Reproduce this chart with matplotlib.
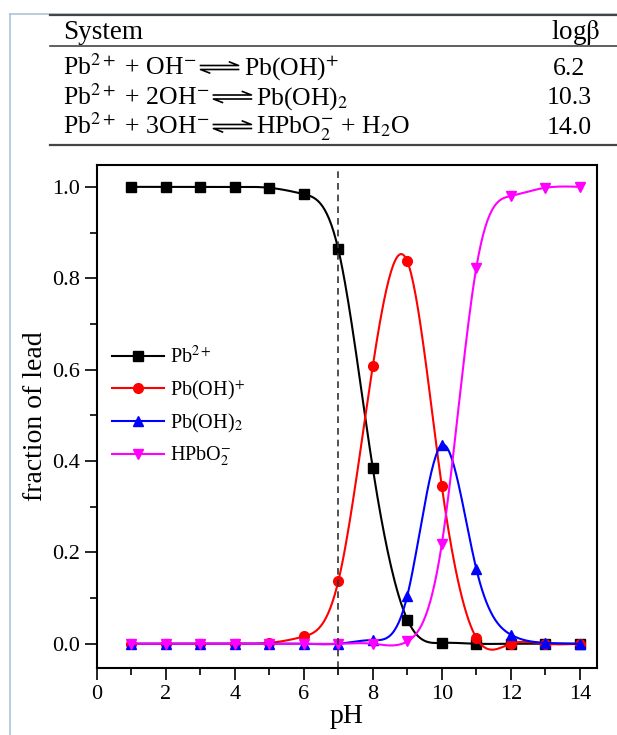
import matplotlib
matplotlib.use("Agg")
import matplotlib.pyplot as plt
import numpy as np
from matplotlib.lines import Line2D

plt.rcParams['font.family'] = ['Liberation Serif', 'DejaVu Serif']
plt.rcParams['mathtext.fontset'] = 'stix'

# -------------------------------
# Dados
# -------------------------------
ph = [1, 2, 3, 4, 5, 6, 7, 8, 9, 10, 11, 12, 13, 14]
pb2 = [1.0, 1.0, 1.0, 1.0, 0.998, 0.984, 0.863, 0.384, 0.053, 0.002, 0.0, 0.0, 0.0, 0.0]
pboh = [0.0, 0.0, 0.0, 0.0, 0.002, 0.016, 0.137, 0.608, 0.837, 0.345, 0.013, 0.0, 0.0, 0.0]
pboh2 = [0.0, 0.0, 0.0, 0.0, 0.0, 0.0, 0.0, 0.008, 0.105, 0.435, 0.164, 0.020, 0.002, 0.0]
hpbo2 = [0.0, 0.0, 0.0, 0.0, 0.0, 0.0, 0.0, 0.0, 0.005, 0.218, 0.823, 0.980, 0.998, 1.0]

series_labels = [r'Pb$^{2+}$', r'Pb(OH)$^{+}$', r'Pb(OH)$_{2}$', r'HPbO$_{2}^{-}$']
series_colors = ['black', 'red', 'blue', 'magenta']
series_markers = ['s', 'o', '^', 'v']

# reagentes / produtos de cada linha da tabela
table_left = [r'Pb$^{2+}$ + OH$^{-}$', r'Pb$^{2+}$ + 2OH$^{-}$', r'Pb$^{2+}$ + 3OH$^{-}$']
table_right = [r'Pb(OH)$^{+}$', r'Pb(OH)$_{2}$', r'HPbO$_{2}^{-}$ + H$_{2}$O']
table_logb = ['6.2', '10.3', '14.0']


def spline_natural(x, y, n=400):
    """Spline cúbica natural (ligação suave como no Origin)"""
    x = np.asarray(x, float)
    y = np.asarray(y, float)
    m = len(x)
    h = np.diff(x)
    A = np.zeros((m, m))
    b = np.zeros(m)
    A[0, 0] = A[-1, -1] = 1
    for i in range(1, m - 1):
        A[i, i - 1] = h[i - 1]
        A[i, i] = 2 * (h[i - 1] + h[i])
        A[i, i + 1] = h[i]
        b[i] = 6 * ((y[i + 1] - y[i]) / h[i] - (y[i] - y[i - 1]) / h[i - 1])
    M = np.linalg.solve(A, b)
    xs = np.linspace(x[0], x[-1], n)
    idx = np.clip(np.searchsorted(x, xs) - 1, 0, m - 2)
    x0, x1 = x[idx], x[idx + 1]
    hh = x1 - x0
    t0 = x1 - xs
    t1 = xs - x0
    ys = (M[idx] * t0 ** 3 + M[idx + 1] * t1 ** 3) / (6 * hh) \
        + (y[idx] / hh - M[idx] * hh / 6) * t0 \
        + (y[idx + 1] / hh - M[idx + 1] * hh / 6) * t1
    return xs, ys


fig = plt.figure(figsize=(6.17, 7.35), dpi=100)
ax = fig.add_axes([0.157, 0.0912, 0.8106, 0.6844])

for ys, c, mk, lab in zip([pb2, pboh, pboh2, hpbo2], series_colors, series_markers, series_labels):
    xs_s, ys_s = spline_natural(ph, ys)
    ax.plot(xs_s, ys_s, color=c, lw=1.5)
    ax.plot(ph, ys, linestyle='none', marker=mk, color=c, ms=7)

handles = [Line2D([], [], color=c, marker=mk, lw=1.5, ms=7)
           for c, mk in zip(series_colors, series_markers)]
ax.legend(handles, series_labels, loc='upper left', bbox_to_anchor=(-0.01, 0.68),
          frameon=False, fontsize=14.5, handlelength=2.6, handletextpad=0.3,
          labelspacing=0.5, borderaxespad=0.6)

ax.plot([7, 7], [-0.053, 1.037], color='#333333', lw=1.2, linestyle=(0, (4, 3)))

ax.set_xlim(0, 14.5)
ax.set_ylim(-0.053, 1.048)
ax.set_xticks(np.arange(0, 15, 2))
ax.set_xticks(np.arange(1, 15, 2), minor=True)
ax.set_yticks(np.arange(0, 1.01, 0.2))
ax.set_yticks(np.arange(0.1, 1.0, 0.2), minor=True)
ax.set_yticklabels([f'{v:.1f}' for v in np.arange(0, 1.01, 0.2)])
ax.tick_params(which='major', direction='out', length=8.5, width=1.2, labelsize=16)
ax.tick_params(which='minor', direction='out', length=5, width=1.2)
for s in ax.spines.values():
    s.set_linewidth(1.5)
ax.set_xlabel('pH', fontsize=20, labelpad=0)
ax.set_ylabel('fraction of lead', fontsize=20, labelpad=3)

# -------------------------------
# Tabela no topo e moldura
# -------------------------------
W, H = 617, 735


def fx(px):
    return px / W


def fy(py):
    return 1 - py / H


fig.add_artist(Line2D([fx(10), fx(10)], [fy(14), 0], color='#aec4da', lw=1.2))
fig.add_artist(Line2D([fx(10), 1], [fy(13.5), fy(13.5)], color='#aec4da', lw=1.2))
fig.add_artist(Line2D([fx(50), 1], [fy(15), fy(15)], color='#444444', lw=1.6))
fig.add_artist(Line2D([fx(50), 1], [fy(46), fy(46)], color='#444444', lw=1.2))
fig.add_artist(Line2D([fx(50), 1], [fy(145), fy(145)], color='#444444', lw=1.6))

TFS = 18.5
fig.text(fx(63), fy(39), 'System', fontsize=19.5, va='baseline', ha='left')
fig.text(fx(600), fy(39), r'log$\mathrm{\beta}$', fontsize=19.5, va='baseline', ha='right')

renderer = fig.canvas.get_renderer()
for i, (lft, rgt, val) in enumerate(zip(table_left, table_right, table_logb)):
    base = 75 + 29.5 * i
    t = fig.text(fx(63), fy(base), lft, fontsize=TFS, va='baseline', ha='left')
    bb = t.get_window_extent(renderer=renderer)
    a0 = bb.x1 + 4
    a1 = a0 + 38
    # setas de equilíbrio (harpões)
    yt = base - 9.5
    yb = base - 5.5
    fig.add_artist(Line2D([fx(a0), fx(a1), fx(a1 - 9)], [fy(yt), fy(yt), fy(yt - 3.5)],
                          color='black', lw=1.2))
    fig.add_artist(Line2D([fx(a1), fx(a0), fx(a0 + 9)], [fy(yb), fy(yb), fy(yb + 3.5)],
                          color='black', lw=1.2))
    fig.text(fx(a1 + 5), fy(base), rgt, fontsize=TFS, va='baseline', ha='left')
    fig.text(fx(569), fy(base), val, fontsize=TFS, va='baseline', ha='center')

fig.savefig('out.png', dpi=100)
